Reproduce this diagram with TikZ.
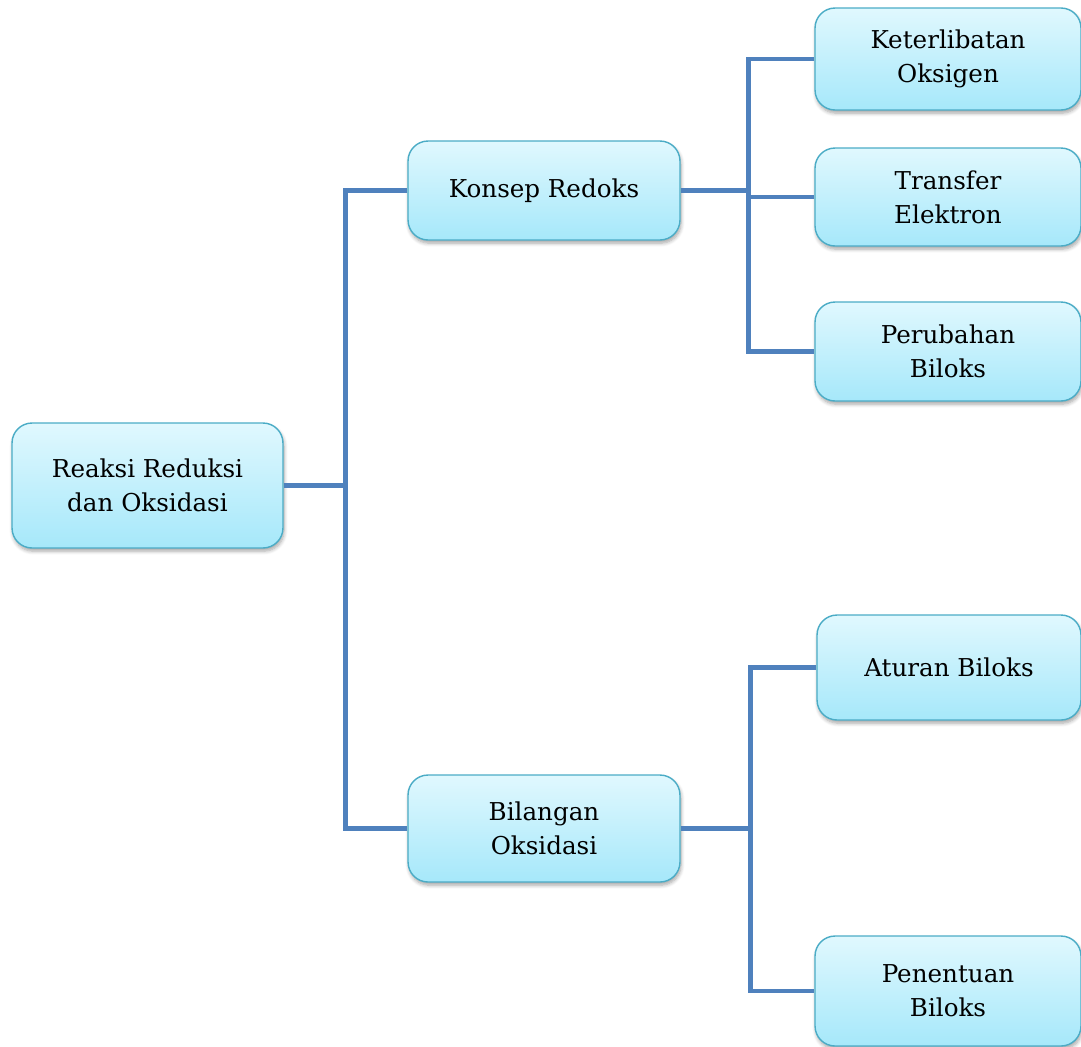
\documentclass[tikz,border=0pt]{standalone}
\usepackage{fontspec}
\setmainfont{DejaVu Serif}
\usepackage{tikz}
\usetikzlibrary{calc, shadows, shadows.blur, positioning}
\definecolor{linkblue}{HTML}{4F81BD}
\definecolor{boxline}{HTML}{4BACC6}
\definecolor{boxtop}{HTML}{E0F8FE}
\definecolor{boxbot}{HTML}{A6E8FA}

\begin{document}
\begin{tikzpicture}[x=0.02cm, y=-0.02cm,
  topic/.style={draw=boxline, line width=0.8pt, rounded corners=0.4cm,
    top color=boxtop, bottom color=boxbot, align=center,
    font=\fontsize{14}{19.5}\selectfont,
    blur shadow={shadow xshift=0.6pt, shadow yshift=-1.8pt, shadow blur steps=6, shadow opacity=35},
    inner sep=0pt},
  link/.style={linkblue, line width=2.8pt}]
\useasboundingbox (0,0) rectangle (1081,1046);
% level 0 and 1
\node[topic, minimum width=5.42cm, minimum height=2.5cm] (root) at (147.5,485.5) {Reaksi Reduksi\\dan Oksidasi};
\node[topic, minimum width=5.44cm, minimum height=1.98cm] (konsep) at (544,190.5) {Konsep Redoks};
\node[topic, minimum width=5.44cm, minimum height=2.14cm] (bilangan) at (544,828.5) {Bilangan\\Oksidasi};
% level 2
\node[topic, minimum width=5.32cm, minimum height=2.04cm] (oksigen) at (948,59) {Keterlibatan\\Oksigen};
\node[topic, minimum width=5.32cm, minimum height=1.96cm] (elektron) at (948,197) {Transfer\\Elektron};
\node[topic, minimum width=5.32cm, minimum height=1.98cm] (perubahan) at (948,351.5) {Perubahan\\Biloks};
\node[topic, minimum width=5.28cm, minimum height=2.1cm] (aturan) at (949,667.5) {Aturan Biloks};
\node[topic, minimum width=5.32cm, minimum height=2.2cm] (penentuan) at (948,991) {Penentuan\\Biloks};
% connectors
\draw[link] (root.east) -- ++(62,0) coordinate (j1);
\draw[link] (konsep.west) -| (j1) |- (bilangan.west);
\draw[link] (konsep.east) -- ++(68,0) coordinate (j2);
\draw[link] (oksigen.west) -| (j2) |- (perubahan.west);
\draw[link] (elektron.west) -- (elektron.west -| j2);
\draw[link] (bilangan.east) -- ++(70,0) coordinate (j3);
\draw[link] (aturan.west) -| (j3) |- (penentuan.west);
\end{tikzpicture}
\end{document}
